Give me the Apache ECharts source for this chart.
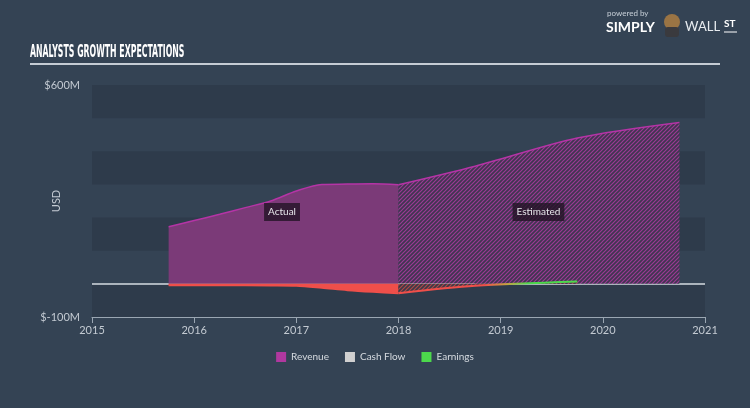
<!DOCTYPE html>
<html><head><meta charset="utf-8">
<script src="https://cdn.jsdelivr.net/npm/echarts@6/dist/echarts.min.js"></script>
<style>html,body{margin:0;padding:0;background:#344354}#c{width:750px;height:408px}</style>
</head><body><div id="c"></div>
<script>
// ---- data ----
const xTickLabels = ['2015','2016','2017','2018','2019','2020','2021'];
const yTickLabels = {'600':'$600M','-100':'$-100M'};
const revenueActualX = [2015.75, 2016.0, 2016.25, 2016.5, 2016.75, 2017.0, 2017.25, 2017.5, 2017.75, 2018.0];
const revenueActual  = [172, 191, 210, 230, 250, 280, 300, 301, 302, 299];
const revenueEstX = [2018.0, 2018.75, 2019.75, 2020.75];
const revenueEst  = [299, 355, 440, 487];
const earningsActualX = [2015.75, 2016.25, 2016.75, 2017.0, 2017.25, 2017.5, 2017.75, 2018.0];
const earningsActual  = [-4, -4, -5, -6, -12, -19, -24, -28];
const earningsEstX = [2018.0, 2018.75, 2019.75];
const earningsEst  = [-28, -6, 7];
const cashFlowEstX = [2018.0, 2018.75];
const cashFlowEst  = [1, 1];
const legendNames = ['Revenue','Cash Flow','Earnings'];

function pairs(xs, ys){ return xs.map((x,i)=>[x, ys[i]]); }
function hatch(bg, fg){
  const c = document.createElement('canvas'); c.width = 4; c.height = 4;
  const g = c.getContext('2d');
  g.fillStyle = bg; g.fillRect(0,0,4,4);
  g.strokeStyle = fg; g.lineWidth = 1.2;
  g.beginPath();
  g.moveTo(0,4); g.lineTo(4,0);
  g.moveTo(-1,1); g.lineTo(1,-1);
  g.moveTo(3,5); g.lineTo(5,3);
  g.stroke();
  return c;
}
const purpleHatch = hatch('#3f3550', '#9c3a94');
const redHatch = hatch('#3a3a48', '#b04848');
const greyHatch = hatch('#3a4656', '#c8c8c8');

const font = 'Lato, "Open Sans", sans-serif';
const chart = echarts.init(document.getElementById('c'));
chart.setOption({
  backgroundColor: '#344354',
  animation: false,
  grid: {left: 92, right: 45, top: 85, bottom: 91},
  xAxis: {
    type: 'value', min: 2015, max: 2021, interval: 1,
    axisLine: {show: true, onZero: false, lineStyle: {color: '#9aa6b2', width: 1}},
    axisTick: {show: true, length: 6, lineStyle: {color: '#9aa6b2'}},
    axisLabel: {color: '#c3cad2', fontSize: 11, fontFamily: font, margin: 8,
      formatter: v => xTickLabels[Math.round(v - 2015)]},
    splitLine: {show: false}
  },
  yAxis: {
    type: 'value', min: -100, max: 600, interval: 100,
    name: 'USD', nameLocation: 'middle', nameGap: 30, nameRotate: 90, nameMoveOverlap: false,
    nameTextStyle: {color: '#c3cad2', fontSize: 11, fontFamily: font},
    axisLine: {show: false}, axisTick: {show: false},
    axisLabel: {color: '#c3cad2', fontSize: 11, fontFamily: font, margin: 12,
      formatter: v => yTickLabels[String(v)] || ''},
    splitLine: {show: false},
    splitArea: {show: true, areaStyle: {color: ['#2e3b4b', 'rgba(0,0,0,0)']}}
  },
  legend: {
    bottom: 41, left: 'center', itemWidth: 10, itemHeight: 10, itemGap: 16, itemTextGap: 6,
    icon: 'rect', selectedMode: false,
    textStyle: {color: '#d6dbe0', fontSize: 10, fontFamily: font},
    data: [
      {name: legendNames[0], itemStyle: {color: '#b0389f'}},
      {name: legendNames[1], itemStyle: {color: '#d0d0d0'}},
      {name: legendNames[2], itemStyle: {color: '#4cd94c'}}
    ]
  },
  series: [
    { name: 'Revenue', type: 'line', data: pairs(revenueActualX, revenueActual),
      smooth: 0.3, symbol: 'none', z: 2,
      lineStyle: {color: '#b534a6', width: 1.5},
      itemStyle: {color: '#b0389f'},
      areaStyle: {color: '#7b3a78', opacity: 1},
      markLine: {silent: true, symbol: 'none', label: {show: false},
        lineStyle: {color: '#d6dce2', width: 1.5, type: 'solid'}, data: [{yAxis: 0}], z: 1},
      markPoint: {symbol: 'rect', symbolSize: 0, silent: true,
        label: {show: true, formatter: '{b}', color: '#e6e6ea', fontSize: 10, fontFamily: font,
          backgroundColor: 'rgba(35,20,38,0.8)', padding: [4, 4]},
        data: [{name: 'Actual', coord: [2016.86, 217]}, {name: 'Estimated', coord: [2019.37, 217]}]}
    },
    { name: 'Revenue', type: 'line', data: pairs(revenueEstX, revenueEst),
      smooth: 0.3, symbol: 'none', z: 2,
      lineStyle: {color: '#b534a6', width: 1.5},
      itemStyle: {color: '#b0389f'},
      areaStyle: {color: {image: purpleHatch, repeat: 'repeat'}, opacity: 1}
    },
    { name: 'Cash Flow', type: 'line', data: pairs(cashFlowEstX, cashFlowEst),
      symbol: 'none', z: 3,
      lineStyle: {color: '#d0d0d0', width: 1, type: 'dotted'},
      itemStyle: {color: '#d0d0d0'},
      areaStyle: {color: {image: greyHatch, repeat: 'repeat'}, opacity: 1}
    },
    { name: 'Earnings', type: 'line', data: pairs(earningsActualX, earningsActual),
      smooth: 0.3, symbol: 'none', z: 4,
      lineStyle: {color: '#ef4f4a', width: 2},
      itemStyle: {color: '#4cd94c'},
      areaStyle: {color: '#ef4f4a', opacity: 1}
    },
    { name: 'Earnings', type: 'line', data: pairs(earningsEstX, earningsEst),
      smooth: 0.3, symbol: 'none', z: 4,
      lineStyle: {width: 2, color: {type: 'linear', x: 0, y: 0, x2: 1, y2: 0,
        colorStops: [{offset: 0, color: '#ef4f4a'}, {offset: 0.48, color: '#ef4f4a'},
                     {offset: 0.6, color: '#c8a040'}, {offset: 0.72, color: '#4cd94c'}, {offset: 1, color: '#4cd94c'}]}},
      itemStyle: {color: '#4cd94c'},
      areaStyle: {color: {image: redHatch, repeat: 'repeat'}, opacity: 1}
    }
  ],
  graphic: [
    {type: 'text', left: 30, top: 44, scaleX: 0.51,
      style: {text: 'ANALYSTS GROWTH EXPECTATIONS', fill: '#ffffff',
        font: 'bold 17px "Liberation Sans Narrow", "DejaVu Sans Condensed", sans-serif'}},
    {type: 'line', shape: {x1: 30, y1: 64, x2: 720, y2: 64},
      style: {stroke: '#c5ccd4', lineWidth: 2}},
    {type: 'text', left: 607, top: 9,
      style: {text: 'powered by', fill: '#c8d0d8', font: '8px ' + font}},
    {type: 'text', left: 606, top: 20,
      style: {text: 'SIMPLY', fill: '#ffffff', font: 'bold 14px ' + font}},
    {type: 'circle', shape: {cx: 672, cy: 22, r: 8}, style: {fill: '#9a7444'}},
    {type: 'rect', shape: {x: 665, y: 27, width: 14, height: 10, r: 3}, style: {fill: '#3a3a3e'}},
    {type: 'text', left: 685, top: 20,
      style: {text: 'WALL', fill: '#e8ecf0', font: '13px ' + font}},
    {type: 'text', left: 724, top: 19,
      style: {text: 'ST', fill: '#ffffff', font: 'bold 10px ' + font}},
    {type: 'line', shape: {x1: 724, y1: 32, x2: 737, y2: 32}, style: {stroke: '#ffffff', lineWidth: 1}}
  ]
});
</script></body></html>
